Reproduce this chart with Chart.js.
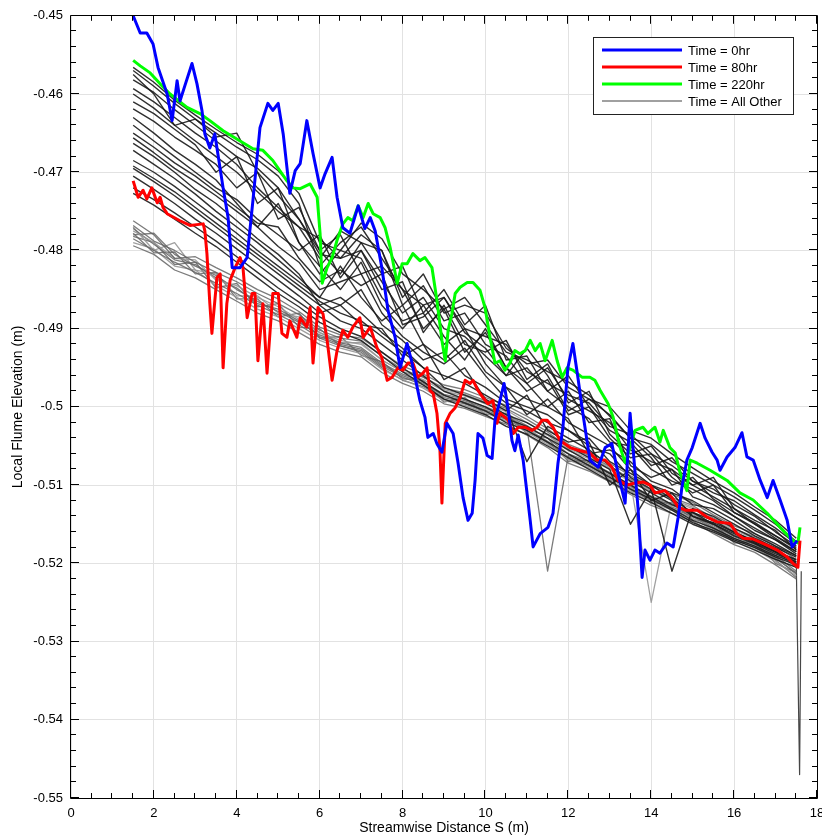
<!DOCTYPE html>
<html>
<head>
<meta charset="utf-8">
<script src="https://cdn.jsdelivr.net/npm/chart.js@4/dist/chart.umd.min.js"></script>
<style>
body { margin: 0; background: #fff; }
canvas { display: block; }
</style>
</head>
<body>
<canvas id="canvas" width="822" height="838"></canvas>
<script>
// Time = 0hr
var time0X = [1.50,1.67,1.83,1.98,2.10,2.32,2.44,2.56,2.63,2.75,2.92,3.04,3.16,3.23,3.35,3.47,3.67,3.79,3.89,4.08,4.25,4.39,4.56,4.75,4.87,5.00,5.12,5.28,5.41,5.53,5.69,5.84,6.01,6.13,6.30,6.42,6.56,6.73,6.93,7.09,7.22,7.34,7.50,7.65,7.82,7.94,8.11,8.23,8.42,8.54,8.61,8.74,8.83,8.95,9.07,9.22,9.34,9.46,9.58,9.68,9.75,9.82,9.94,10.04,10.16,10.23,10.35,10.45,10.55,10.64,10.71,10.79,10.91,11.08,11.15,11.32,11.51,11.63,11.75,11.87,11.99,12.11,12.23,12.35,12.52,12.72,12.89,13.05,13.20,13.37,13.49,13.56,13.68,13.78,13.85,13.97,14.09,14.21,14.38,14.53,14.65,14.74,14.86,14.99,15.18,15.30,15.47,15.59,15.66,15.83,16.02,16.19,16.31,16.46,16.63,16.80,16.94,17.11,17.28,17.40,17.52];
var time0Y = [-0.4500,-0.4522,-0.4522,-0.4536,-0.4566,-0.4600,-0.4634,-0.4583,-0.4609,-0.4589,-0.4561,-0.4587,-0.4621,-0.4651,-0.4669,-0.4651,-0.4720,-0.4758,-0.4822,-0.4822,-0.4809,-0.4736,-0.4643,-0.4612,-0.4621,-0.4612,-0.4651,-0.4727,-0.4698,-0.4689,-0.4634,-0.4676,-0.4720,-0.4702,-0.4681,-0.4732,-0.4771,-0.4778,-0.4743,-0.4772,-0.4758,-0.4775,-0.4822,-0.4877,-0.4911,-0.4950,-0.4919,-0.4944,-0.4992,-0.5013,-0.5039,-0.5034,-0.5047,-0.5058,-0.5021,-0.5034,-0.5072,-0.5116,-0.5145,-0.5136,-0.5094,-0.5034,-0.5040,-0.5062,-0.5066,-0.5017,-0.4992,-0.4970,-0.5004,-0.5043,-0.5056,-0.5036,-0.5068,-0.5145,-0.5179,-0.5162,-0.5154,-0.5136,-0.5072,-0.5026,-0.4950,-0.4919,-0.4962,-0.5008,-0.5068,-0.5077,-0.5052,-0.5047,-0.5085,-0.5123,-0.5008,-0.5052,-0.5128,-0.5218,-0.5183,-0.5196,-0.5183,-0.5187,-0.5174,-0.5179,-0.5141,-0.5103,-0.5068,-0.5052,-0.5021,-0.5040,-0.5058,-0.5068,-0.5081,-0.5064,-0.5052,-0.5033,-0.5064,-0.5068,-0.5094,-0.5116,-0.5094,-0.5119,-0.5145,-0.5179,-0.5171];

// Time = 80hr
var time80X = [1.50,1.62,1.74,1.83,1.95,2.08,2.15,2.22,2.32,2.63,2.87,3.19,3.23,3.28,3.35,3.40,3.52,3.60,3.67,3.76,3.84,3.96,4.08,4.15,4.25,4.37,4.44,4.51,4.63,4.73,4.87,5.00,5.09,5.21,5.28,5.45,5.53,5.69,5.77,5.84,5.96,6.08,6.18,6.30,6.42,6.56,6.68,6.80,6.97,7.05,7.22,7.38,7.50,7.63,7.75,7.89,8.01,8.13,8.25,8.37,8.49,8.59,8.66,8.74,8.83,8.90,8.95,9.03,9.15,9.27,9.39,9.51,9.63,9.70,9.82,9.94,10.06,10.18,10.28,10.35,10.47,10.55,10.67,10.79,10.96,11.12,11.25,11.37,11.49,11.63,11.80,12.04,12.28,12.52,12.69,12.89,13.05,13.20,13.42,13.56,13.80,13.97,14.09,14.33,14.50,14.65,14.82,15.11,15.35,15.59,15.90,16.07,16.22,16.46,16.80,17.04,17.28,17.42,17.54,17.59];
var time80Y = [-0.4711,-0.4732,-0.4723,-0.4734,-0.4720,-0.4739,-0.4732,-0.4745,-0.4753,-0.4762,-0.4768,-0.4766,-0.4775,-0.4804,-0.4868,-0.4906,-0.4835,-0.4830,-0.4950,-0.4868,-0.4838,-0.4822,-0.4809,-0.4822,-0.4886,-0.4855,-0.4855,-0.4941,-0.4868,-0.4957,-0.4855,-0.4855,-0.4906,-0.4911,-0.4890,-0.4911,-0.4886,-0.4898,-0.4873,-0.4944,-0.4873,-0.4881,-0.4915,-0.4966,-0.4928,-0.4902,-0.4911,-0.4898,-0.4886,-0.4911,-0.4898,-0.4924,-0.4937,-0.4966,-0.4962,-0.4950,-0.4953,-0.4944,-0.4944,-0.4962,-0.4957,-0.4950,-0.4979,-0.4983,-0.5008,-0.5052,-0.5123,-0.5021,-0.5008,-0.5001,-0.4988,-0.4966,-0.4970,-0.4966,-0.4979,-0.4988,-0.4996,-0.4992,-0.5021,-0.5008,-0.5013,-0.5017,-0.5034,-0.5026,-0.5026,-0.5030,-0.5026,-0.5017,-0.5017,-0.5026,-0.5043,-0.5052,-0.5056,-0.5059,-0.5068,-0.5068,-0.5077,-0.5094,-0.5100,-0.5098,-0.5096,-0.5100,-0.5110,-0.5107,-0.5116,-0.5128,-0.5132,-0.5132,-0.5141,-0.5147,-0.5149,-0.5162,-0.5168,-0.5169,-0.5177,-0.5183,-0.5192,-0.5200,-0.5205,-0.5171];

// Time = 220hr
var time220X = [1.50,1.67,1.91,2.15,2.39,2.80,3.11,3.35,3.67,4.08,4.39,4.63,4.87,5.21,5.36,5.53,5.77,5.94,6.01,6.06,6.18,6.30,6.42,6.56,6.68,6.80,6.93,7.05,7.17,7.29,7.46,7.58,7.70,7.87,7.99,8.11,8.25,8.42,8.54,8.71,8.83,8.95,9.03,9.10,9.19,9.27,9.39,9.56,9.70,9.87,9.99,10.11,10.23,10.35,10.47,10.59,10.71,10.83,10.96,11.08,11.20,11.32,11.44,11.61,11.73,11.85,11.97,12.11,12.33,12.52,12.64,12.77,12.96,13.08,13.25,13.37,13.49,13.61,13.80,13.92,14.09,14.21,14.29,14.45,14.58,14.70,14.86,14.94,15.11,15.42,15.83,16.14,16.46,16.80,17.11,17.42,17.54,17.59];
var time220Y = [-0.4557,-0.4564,-0.4573,-0.4587,-0.4600,-0.4617,-0.4625,-0.4634,-0.4647,-0.4660,-0.4670,-0.4672,-0.4685,-0.4711,-0.4720,-0.4721,-0.4715,-0.4732,-0.4778,-0.4842,-0.4822,-0.4809,-0.4787,-0.4766,-0.4758,-0.4762,-0.4743,-0.4758,-0.4740,-0.4753,-0.4758,-0.4771,-0.4796,-0.4842,-0.4817,-0.4817,-0.4804,-0.4813,-0.4809,-0.4822,-0.4864,-0.4915,-0.4941,-0.4902,-0.4881,-0.4855,-0.4847,-0.4841,-0.4841,-0.4851,-0.4873,-0.4911,-0.4944,-0.4941,-0.4953,-0.4944,-0.4928,-0.4932,-0.4928,-0.4915,-0.4928,-0.4919,-0.4941,-0.4915,-0.4941,-0.4962,-0.4950,-0.4953,-0.4962,-0.4962,-0.4966,-0.4979,-0.4996,-0.5013,-0.5052,-0.5071,-0.5052,-0.5030,-0.5026,-0.5034,-0.5026,-0.5045,-0.5030,-0.5052,-0.5059,-0.5085,-0.5107,-0.5068,-0.5072,-0.5081,-0.5094,-0.5110,-0.5119,-0.5136,-0.5154,-0.5171,-0.5174,-0.5154];

// Time = All Other (shared stations)
var otherX = [1.5,2.0,2.5,3.0,3.5,4.0,4.5,5.0,5.5,6.0,6.5,7.0,7.5,8.0,8.5,9.0,9.5,10.0,10.5,11.0,11.5,12.0,12.5,13.0,13.5,14.0,14.5,15.0,15.5,16.0,16.5,17.0,17.5];

// darker profiles
var otherDark = [
    [-0.4566,-0.4585,-0.4608,-0.4627,-0.4645,-0.4662,-0.4677,-0.4698,-0.4727,-0.4790,-0.4800,-0.4765,-0.4785,-0.4830,-0.4850,-0.4875,-0.4860,-0.4895,-0.4930,-0.4940,-0.4955,-0.4968,-0.4985,-0.5012,-0.5040,-0.5048,-0.5070,-0.5085,-0.5100,-0.5115,-0.5132,-0.5150,-0.5172],
    [-0.4570,-0.4590,-0.4612,-0.4632,-0.4650,-0.4668,-0.4684,-0.4705,-0.4740,-0.4820,-0.4790,-0.4770,-0.4810,-0.4850,-0.4870,-0.4860,-0.4900,-0.4910,-0.4920,-0.4955,-0.4970,-0.4985,-0.4995,-0.5025,-0.5035,-0.5060,-0.5075,-0.5095,-0.5105,-0.5125,-0.5140,-0.5160,-0.5178],
    [-0.4575,-0.4600,-0.4640,-0.4632,-0.4655,-0.4650,-0.4700,-0.4730,-0.4760,-0.4800,-0.4830,-0.4790,-0.4800,-0.4870,-0.4845,-0.4890,-0.4880,-0.4920,-0.4935,-0.4970,-0.4950,-0.4990,-0.5005,-0.5020,-0.5055,-0.5070,-0.5080,-0.5100,-0.5115,-0.5130,-0.5150,-0.5165,-0.5182],
    [-0.4593,-0.4610,-0.4630,-0.4650,-0.4668,-0.4690,-0.4720,-0.4745,-0.4770,-0.4785,-0.4810,-0.4800,-0.4840,-0.4880,-0.4860,-0.4900,-0.4910,-0.4935,-0.4960,-0.4950,-0.4980,-0.5000,-0.5015,-0.5045,-0.5050,-0.5080,-0.5095,-0.5105,-0.5120,-0.5140,-0.5155,-0.5170,-0.5185],
    [-0.4619,-0.4635,-0.4655,-0.4672,-0.4690,-0.4720,-0.4700,-0.4760,-0.4745,-0.4800,-0.4780,-0.4830,-0.4820,-0.4850,-0.4900,-0.4875,-0.4930,-0.4905,-0.4950,-0.4980,-0.4965,-0.5010,-0.5000,-0.5040,-0.5065,-0.5060,-0.5090,-0.5110,-0.5100,-0.5135,-0.5148,-0.5165,-0.5180],
    [-0.4630,-0.4650,-0.4672,-0.4690,-0.4710,-0.4740,-0.4770,-0.4740,-0.4790,-0.4830,-0.4800,-0.4810,-0.4860,-0.4890,-0.4880,-0.4920,-0.4900,-0.4945,-0.4975,-0.5010,-0.4990,-0.5020,-0.5035,-0.5050,-0.5080,-0.5100,-0.5110,-0.5120,-0.5135,-0.5150,-0.5165,-0.5178,-0.5190],
    [-0.4656,-0.4675,-0.4695,-0.4712,-0.4730,-0.4750,-0.4770,-0.4795,-0.4815,-0.4850,-0.4840,-0.4830,-0.4880,-0.4910,-0.4930,-0.4945,-0.4925,-0.4960,-0.4990,-0.5000,-0.5010,-0.5030,-0.5050,-0.5060,-0.5090,-0.5105,-0.5210,-0.5130,-0.5140,-0.5155,-0.5168,-0.5180,-0.5192],
    [-0.4663,-0.4680,-0.4700,-0.4722,-0.4740,-0.4762,-0.4785,-0.4805,-0.4830,-0.4870,-0.4860,-0.4880,-0.4905,-0.4925,-0.4950,-0.4960,-0.4970,-0.4985,-0.5000,-0.5070,-0.5025,-0.5040,-0.5055,-0.5075,-0.5095,-0.5110,-0.5125,-0.5135,-0.5145,-0.5160,-0.5172,-0.5185,-0.5195],
    [-0.4692,-0.4708,-0.4725,-0.4745,-0.4765,-0.4785,-0.4805,-0.4825,-0.4845,-0.4865,-0.4880,-0.4890,-0.4910,-0.4930,-0.4950,-0.4975,-0.4985,-0.4995,-0.5010,-0.5020,-0.5035,-0.5050,-0.5065,-0.5080,-0.5150,-0.5105,-0.5120,-0.5140,-0.5150,-0.5165,-0.5175,-0.5188,-0.5198],
    [-0.4695,-0.4712,-0.4730,-0.4750,-0.4770,-0.4790,-0.4810,-0.4830,-0.4850,-0.4870,-0.4890,-0.4900,-0.4920,-0.4940,-0.4960,-0.4980,-0.4990,-0.5000,-0.5015,-0.5025,-0.5040,-0.5055,-0.5070,-0.5085,-0.5100,-0.5115,-0.5130,-0.5145,-0.5155,-0.5168,-0.5178,-0.5190,-0.5200],
    [-0.4720,-0.4735,-0.4752,-0.4770,-0.4788,-0.4808,-0.4828,-0.4848,-0.4866,-0.4885,-0.4900,-0.4910,-0.4930,-0.4950,-0.4968,-0.4985,-0.4995,-0.5005,-0.5020,-0.5030,-0.5045,-0.5060,-0.5075,-0.5090,-0.5105,-0.5118,-0.5132,-0.5148,-0.5158,-0.5170,-0.5180,-0.5192,-0.5202],
    [-0.4727,-0.4742,-0.4760,-0.4778,-0.4795,-0.4815,-0.4835,-0.4855,-0.4872,-0.4892,-0.4905,-0.4915,-0.4935,-0.4955,-0.4972,-0.4990,-0.5000,-0.5010,-0.5025,-0.5035,-0.5050,-0.5065,-0.5080,-0.5095,-0.5110,-0.5122,-0.5136,-0.5150,-0.5160,-0.5172,-0.5183,-0.5195,-0.5205],
    [-0.4600,-0.4618,-0.4640,-0.4660,-0.4680,-0.4700,-0.4725,-0.4750,-0.4770,-0.4810,-0.4775,-0.4790,-0.4830,-0.4820,-0.4880,-0.4850,-0.4895,-0.4870,-0.4940,-0.4935,-0.4980,-0.4960,-0.5000,-0.5030,-0.5045,-0.5075,-0.5065,-0.5095,-0.5110,-0.5120,-0.5138,-0.5155,-0.5175],
    [-0.4640,-0.4660,-0.4680,-0.4700,-0.4720,-0.4735,-0.4760,-0.4780,-0.4800,-0.4780,-0.4835,-0.4800,-0.4850,-0.4840,-0.4905,-0.4870,-0.4920,-0.4930,-0.4915,-0.4965,-0.4945,-0.4995,-0.4980,-0.5035,-0.5060,-0.5050,-0.5085,-0.5100,-0.5090,-0.5130,-0.5145,-0.5158,-0.5183],
    [-0.4672,-0.4690,-0.4708,-0.4728,-0.4750,-0.4770,-0.4790,-0.4812,-0.4835,-0.4860,-0.4820,-0.4860,-0.4890,-0.4870,-0.4920,-0.4940,-0.4915,-0.4955,-0.4975,-0.4990,-0.5000,-0.5015,-0.5060,-0.5055,-0.5070,-0.5095,-0.5105,-0.5125,-0.5130,-0.5145,-0.5162,-0.5175,-0.5190],
    [-0.4705,-0.4722,-0.4740,-0.4760,-0.4778,-0.4798,-0.4818,-0.4838,-0.4858,-0.4880,-0.4870,-0.4895,-0.4900,-0.4935,-0.4920,-0.4965,-0.4950,-0.4990,-0.5005,-0.4985,-0.5030,-0.5045,-0.5040,-0.5070,-0.5085,-0.5100,-0.5118,-0.5135,-0.5150,-0.5162,-0.5174,-0.5186,-0.5198],
    [-0.4582,-0.4598,-0.4620,-0.4640,-0.4660,-0.4680,-0.4695,-0.4720,-0.4760,-0.4805,-0.4810,-0.4780,-0.4800,-0.4860,-0.4830,-0.4880,-0.4870,-0.4880,-0.4925,-0.4945,-0.4940,-0.4975,-0.4990,-0.5000,-0.5030,-0.5040,-0.5060,-0.5078,-0.5095,-0.5110,-0.5128,-0.5145,-0.5168],
    [-0.4610,-0.4625,-0.4645,-0.4665,-0.4700,-0.4680,-0.4740,-0.4720,-0.4790,-0.4820,-0.4850,-0.4815,-0.4870,-0.4900,-0.4870,-0.4910,-0.4940,-0.4900,-0.4950,-0.4970,-0.5000,-0.4980,-0.5020,-0.5015,-0.5075,-0.5090,-0.5080,-0.5115,-0.5125,-0.5140,-0.5158,-0.5170,-0.5188],
    [-0.4685,-0.4700,-0.4718,-0.4738,-0.4758,-0.4778,-0.4800,-0.4820,-0.4840,-0.4860,-0.4870,-0.4850,-0.4895,-0.4915,-0.4940,-0.4930,-0.4960,-0.4975,-0.4995,-0.5005,-0.5020,-0.5030,-0.5045,-0.5100,-0.5080,-0.5120,-0.5110,-0.5140,-0.5148,-0.5160,-0.5172,-0.5185,-0.5196],
    [-0.4650,-0.4668,-0.4688,-0.4705,-0.4725,-0.4745,-0.4765,-0.4770,-0.4810,-0.4840,-0.4825,-0.4845,-0.4830,-0.4895,-0.4885,-0.4860,-0.4905,-0.4925,-0.4960,-0.4925,-0.4960,-0.5005,-0.4990,-0.5010,-0.5040,-0.5065,-0.5100,-0.5090,-0.5118,-0.5135,-0.5150,-0.5168,-0.5185]
];

// lighter profiles (lower bunch)
var otherLight = [
    [-0.4762,-0.4780,-0.4810,-0.4808,-0.4822,-0.4835,-0.4850,-0.4862,-0.4878,-0.4898,-0.4908,-0.4912,-0.4930,-0.4948,-0.4958,-0.4972,-0.4978,-0.4988,-0.4998,-0.5012,-0.5028,-0.5048,-0.5058,-0.5072,-0.5088,-0.5102,-0.5112,-0.5122,-0.5138,-0.5152,-0.5162,-0.5178,-0.5195],
    [-0.4768,-0.4788,-0.4800,-0.4815,-0.4828,-0.4840,-0.4855,-0.4868,-0.4882,-0.4902,-0.4912,-0.4916,-0.4935,-0.4952,-0.4962,-0.4976,-0.4982,-0.4992,-0.5002,-0.5016,-0.5032,-0.5052,-0.5062,-0.5076,-0.5092,-0.5106,-0.5116,-0.5126,-0.5142,-0.5156,-0.5166,-0.5182,-0.5200],
    [-0.4775,-0.4790,-0.4810,-0.4812,-0.4838,-0.4845,-0.4860,-0.4872,-0.4888,-0.4905,-0.4915,-0.4920,-0.4940,-0.4955,-0.4965,-0.4980,-0.4986,-0.4996,-0.5006,-0.5030,-0.5036,-0.5056,-0.5066,-0.5080,-0.5096,-0.5250,-0.5120,-0.5130,-0.5146,-0.5160,-0.5170,-0.5186,-0.5205],
    [-0.4780,-0.4778,-0.4805,-0.4820,-0.4832,-0.4850,-0.4865,-0.4878,-0.4892,-0.4908,-0.4918,-0.4924,-0.4944,-0.4958,-0.4968,-0.4984,-0.4990,-0.5000,-0.5010,-0.5024,-0.5040,-0.5060,-0.5070,-0.5084,-0.5100,-0.5114,-0.5124,-0.5134,-0.5150,-0.5164,-0.5174,-0.5190,-0.5210],
    [-0.4785,-0.4800,-0.4815,-0.4828,-0.4842,-0.4855,-0.4870,-0.4882,-0.4895,-0.4912,-0.4922,-0.4928,-0.4948,-0.4962,-0.4972,-0.4988,-0.4994,-0.5004,-0.5014,-0.5028,-0.5044,-0.5064,-0.5074,-0.5088,-0.5104,-0.5118,-0.5128,-0.5138,-0.5154,-0.5168,-0.5178,-0.5194,-0.5212],
    [-0.4790,-0.4798,-0.4820,-0.4825,-0.4845,-0.4860,-0.4875,-0.4885,-0.4900,-0.4915,-0.4925,-0.4932,-0.4952,-0.4965,-0.4976,-0.4992,-0.4998,-0.5008,-0.5018,-0.5032,-0.5048,-0.5068,-0.5078,-0.5092,-0.5108,-0.5122,-0.5132,-0.5142,-0.5158,-0.5172,-0.5182,-0.5198,-0.5216],
    [-0.4772,-0.4792,-0.4812,-0.4818,-0.4835,-0.4848,-0.4868,-0.4875,-0.4890,-0.4910,-0.4920,-0.4926,-0.4946,-0.4960,-0.4970,-0.4986,-0.4992,-0.5002,-0.5012,-0.5026,-0.5210,-0.5062,-0.5072,-0.5086,-0.5102,-0.5116,-0.5126,-0.5136,-0.5152,-0.5166,-0.5176,-0.5192,-0.5214],
    [-0.4794,-0.4805,-0.4825,-0.4835,-0.4850,-0.4865,-0.4880,-0.4890,-0.4905,-0.4920,-0.4930,-0.4936,-0.4956,-0.4970,-0.4980,-0.4996,-0.5002,-0.5012,-0.5022,-0.5036,-0.5052,-0.5072,-0.5082,-0.5096,-0.5112,-0.5126,-0.5136,-0.5146,-0.5162,-0.5176,-0.5186,-0.5202,-0.5220],
    [-0.4770,-0.4800,-0.4790,-0.4825,-0.4830,-0.4858,-0.4858,-0.4880,-0.4885,-0.4905,-0.4918,-0.4918,-0.4940,-0.4955,-0.4962,-0.4978,-0.4984,-0.4994,-0.5004,-0.5020,-0.5036,-0.5054,-0.5064,-0.5078,-0.5094,-0.5108,-0.5118,-0.5128,-0.5144,-0.5158,-0.5168,-0.5184,-0.5203],
    [-0.4782,-0.4790,-0.4818,-0.4815,-0.4848,-0.4842,-0.4872,-0.4868,-0.4898,-0.4900,-0.4922,-0.4930,-0.4950,-0.4966,-0.4974,-0.4990,-0.4996,-0.5006,-0.5016,-0.5030,-0.5046,-0.5066,-0.5076,-0.5090,-0.5106,-0.5120,-0.5130,-0.5140,-0.5156,-0.5170,-0.5180,-0.5196,-0.5218],
    [-0.4778,-0.4803,-0.4802,-0.4830,-0.4828,-0.4862,-0.4862,-0.4885,-0.4880,-0.4912,-0.4910,-0.4934,-0.4942,-0.4964,-0.4966,-0.4994,-0.4988,-0.5010,-0.5008,-0.5034,-0.5040,-0.5070,-0.5068,-0.5094,-0.5098,-0.5124,-0.5122,-0.5144,-0.5148,-0.5174,-0.5172,-0.5200,-0.5212]
];

// end-of-flume drop of one profile
var dropX = [17.50, 17.58, 17.62];
var dropY = [-0.5200, -0.5470, -0.5210];

var xTicks = [0, 2, 4, 6, 8, 10, 12, 14, 16, 18];
var yTicks = [-0.55, -0.54, -0.53, -0.52, -0.51, -0.5, -0.49, -0.48, -0.47, -0.46, -0.45];

var legendItems = [
    { text: 'Time = 0hr', color: '#0000ff', width: 3 },
    { text: 'Time = 80hr', color: '#ff0000', width: 3 },
    { text: 'Time = 220hr', color: '#00ff00', width: 3 },
    { text: 'Time = All Other', color: '#808080', width: 1.5 }
];

var FONT = '"Liberation Sans", Arial, Helvetica, sans-serif';

function pts(xs, ys) {
    var out = [];
    for (var i = 0; i < Math.min(xs.length, ys.length); i++) {
        out.push({ x: xs[i], y: ys[i] });
    }
    return out;
}

function line(label, xs, ys, color, width) {
    return {
        label: label,
        data: pts(xs, ys),
        borderColor: color,
        borderWidth: width,
        pointRadius: 0,
        tension: 0,
        fill: false,
        borderJoinStyle: 'round'
    };
}

var datasets = [
    line('Time = 0hr', time0X, time0Y, '#0000ff', 3),
    line('Time = 80hr', time80X, time80Y, '#ff0000', 3),
    line('Time = 220hr', time220X, time220Y, '#00ff00', 3)
];
otherDark.forEach(function(ys) {
    datasets.push(line('Time = All Other', otherX, ys, 'rgba(25,25,25,0.9)', 1.4));
});
otherLight.forEach(function(ys, i) {
    var c = (i % 3 === 2) ? 'rgba(150,150,150,0.9)' : 'rgba(100,100,100,0.85)';
    datasets.push(line('Time = All Other', otherX, ys, c, 1.3));
});
datasets.push(line('Time = All Other', dropX, dropY, 'rgba(50,50,50,0.9)', 1.2));

// matlab style box with inward ticks, plus legend
var frame = {
    id: 'frame',
    afterDatasetsDraw: function(chart) {
        var ctx = chart.ctx, a = chart.chartArea;
        var xs = chart.scales.x, ys = chart.scales.y;
        ctx.save();
        ctx.strokeStyle = '#000';
        ctx.lineWidth = 1;
        ctx.beginPath();
        ctx.rect(Math.round(a.left) - 0.5, Math.round(a.top) - 0.5,
            Math.round(a.right - a.left) + 1, Math.round(a.bottom - a.top) + 1);
        ctx.stroke();
        ctx.beginPath();
        for (var i = 0; i <= 36; i++) {
            var px = Math.round(xs.getPixelForValue(i * 0.5)) - 0.5;
            var len = (i % 4 === 0) ? 8 : 5;
            ctx.moveTo(px, a.bottom); ctx.lineTo(px, a.bottom - len);
            ctx.moveTo(px, a.top); ctx.lineTo(px, a.top + len);
        }
        for (var j = 0; j <= 50; j++) {
            var py = Math.round(ys.getPixelForValue(-0.55 + j * 0.002)) - 0.5;
            var l2 = (j % 5 === 0) ? 8 : 5;
            ctx.moveTo(a.left, py); ctx.lineTo(a.left + l2, py);
            ctx.moveTo(a.right, py); ctx.lineTo(a.right - l2, py);
        }
        ctx.stroke();

        // legend box
        var lx = Math.round(a.right) - 224, ly = Math.round(a.top) + 21;
        ctx.fillStyle = '#fff';
        ctx.fillRect(lx, ly, 200, 77);
        ctx.strokeStyle = '#222';
        ctx.strokeRect(lx + 0.5, ly + 0.5, 200, 77);
        ctx.font = '13px ' + FONT;
        ctx.textBaseline = 'middle';
        ctx.textAlign = 'left';
        legendItems.forEach(function(it, k) {
            var yy = ly + 13 + k * 17;
            ctx.strokeStyle = it.color;
            ctx.lineWidth = it.width;
            ctx.beginPath();
            ctx.moveTo(lx + 9, yy); ctx.lineTo(lx + 89, yy);
            ctx.stroke();
            ctx.fillStyle = '#000';
            ctx.fillText(it.text, lx + 95, yy + 1);
        });
        ctx.restore();
    }
};

var config = {
    type: 'line',
    data: { datasets: datasets },
    options: {
        responsive: false,
        animation: false,
        layout: { padding: { left: 0, right: 5, top: 15, bottom: 0 } },
        plugins: {
            legend: { display: false },
            tooltip: { enabled: false }
        },
        scales: {
            x: {
                type: 'linear',
                min: 0,
                max: 18,
                afterBuildTicks: function(s) { s.ticks = xTicks.map(function(v) { return { value: v }; }); },
                afterFit: function(s) { s.height = 40; s.paddingLeft = 0; s.paddingRight = 0; },
                grid: { color: '#e2e2e2', lineWidth: 1, drawTicks: false },
                border: { display: false },
                ticks: { color: '#000', padding: 8, font: { family: FONT, size: 13 }, maxRotation: 0 },
                title: {
                    display: true,
                    text: 'Streamwise Distance S (m)',
                    color: '#000',
                    font: { family: FONT, size: 14 },
                    padding: { top: 0, bottom: 1 }
                }
            },
            y: {
                type: 'linear',
                min: -0.55,
                max: -0.45,
                afterBuildTicks: function(s) { s.ticks = yTicks.map(function(v) { return { value: v }; }); },
                afterFit: function(s) { s.width = 71; },
                grid: { color: '#e2e2e2', lineWidth: 1, drawTicks: false },
                border: { display: false },
                ticks: {
                    color: '#000',
                    padding: 8,
                    font: { family: FONT, size: 13 },
                    callback: function(v) { return String(Number(Number(v).toFixed(2))); }
                },
                title: {
                    display: true,
                    text: 'Local Flume Elevation (m)',
                    color: '#000',
                    font: { family: FONT, size: 14 },
                    padding: { top: 10, bottom: 0 }
                }
            }
        }
    },
    plugins: [frame]
};

window.onload = function() {
    window.myChart = new Chart(document.getElementById('canvas'), config);
};
</script>
</body>
</html>
